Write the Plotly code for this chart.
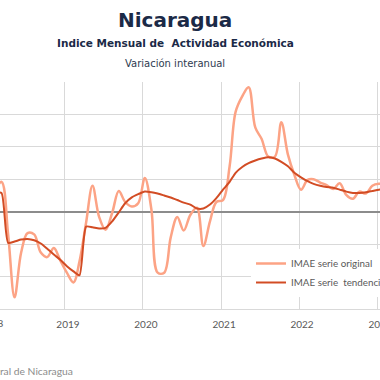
import plotly.graph_objects as go

# Monthly dates Jan-2018 .. Feb-2023
years = [2018] * 12 + [2019] * 12 + [2020] * 12 + [2021] * 12 + [2022] * 12 + [2023] * 2
months = list(range(1, 13)) * 5 + [1, 2]

imae_original = [
    4.5, 3.8, 4.6, -3.5, -13.2, -6.3, -3.3, -3.5, -6.3, -7.0, -5.6, -7.5,
    -9.4, -10.9, -7.7, -1.7, 4.0, -0.8, -2.8, -0.2, 3.2, 1.5, 0.8, 1.3,
    5.2, 0.3, -9.4, -9.4, -4.0, -0.8, -2.9, -0.5, 0.6, -5.3, -1.5, 1.5,
    1.8, 7.0, 15.4, 17.8, 19.2, 13.0, 11.2, 8.5, 8.5, 13.8, 8.8, 5.7,
    3.4, 4.9, 5.0, 4.5, 4.1, 3.5, 4.4, 2.6, 2.0, 3.1, 2.8, 4.0,
    4.3, 4.2,
]

imae_tendencia = [
    2.9, 2.9, 2.9, -4.8, -4.6, -4.3, -4.2, -4.4, -4.9, -5.7, -6.6, -7.4,
    -8.4, -9.2, -9.8, -2.3, -2.4, -2.6, -2.5, -1.5, -0.1, 1.3, 2.2, 2.7,
    3.1, 3.0, 2.8, 2.5, 2.2, 1.8, 1.4, 1.1, 0.5, 0.5, 1.1, 2.1,
    3.4, 4.6, 6.0, 6.9, 7.5, 7.9, 8.2, 8.4, 8.2, 7.7, 7.0, 6.0,
    5.3, 4.7, 4.3, 4.0, 3.8, 3.7, 3.4, 3.1, 2.9, 2.9, 3.0, 3.2,
    3.4, 3.5,
]

tick_years = ["2018", "2019", "2020", "2021", "2022", "2023"]

dates = [f"{y}-{m:02d}-10" for y, m in zip(years, months)]

fig = go.Figure()
fig.add_trace(go.Scatter(
    x=dates, y=imae_original, mode="lines", name="IMAE serie original",
    line=dict(color="#fca385", width=2.5, shape="spline", smoothing=1.0),
))
fig.add_trace(go.Scatter(
    x=dates, y=imae_tendencia, mode="lines", name="IMAE serie  tendencia",
    line=dict(color="#d24c24", width=2, shape="spline", smoothing=0.6),
))

fig.update_layout(
    width=380, height=380,
    margin=dict(l=0, r=0, t=82, b=71, autoexpand=False),
    paper_bgcolor="white", plot_bgcolor="white",
    font=dict(family="Lato, 'Open Sans', sans-serif", color="#595959"),
    showlegend=True,
    legend=dict(
        xref="container", yref="container",
        x=251 / 380, y=1 - 249 / 380, xanchor="left", yanchor="top",
        bgcolor="white", font=dict(size=9.8, color="#595959"),
        tracegroupgap=0, itemwidth=30,
    ),
)

fig.update_xaxes(
    type="date",
    range=["2018-03-03", "2023-01-15"],
    tickvals=[f"{y}-01-01" for y in tick_years],
    ticktext=tick_years,
    showgrid=True, gridcolor="#d9d9d9", gridwidth=1,
    showline=True, linecolor="#d9d9d9", linewidth=1,
    ticks="", ticklabeloverflow="allow",
    ticklabelstandoff=6, ticklabelshift=3,
    tickfont=dict(size=10, color="#595959"),
    zeroline=False,
)
fig.update_yaxes(
    range=[-15, 20], dtick=5, tick0=0,
    showgrid=True, gridcolor="#d9d9d9", gridwidth=1,
    zeroline=True, zerolinecolor="#8c8c8c", zerolinewidth=1.5,
    showticklabels=False, ticks="",
)

h = 227.0
def py(v):
    return (309 - v) / h

fig.add_annotation(text="<b>Nicaragua</b>", x=175 / 380, y=py(20), xref="paper", yref="paper",
                   showarrow=False, xanchor="center", yanchor="middle",
                   font=dict(size=20, color="#1b2a47", family="DejaVu Sans, sans-serif"))
fig.add_annotation(text="<b>Indice Mensual de  Actividad Económica</b>", x=175 / 380, y=py(43),
                   xref="paper", yref="paper", showarrow=False, xanchor="center", yanchor="middle",
                   font=dict(size=10.5, color="#1b2a47", family="DejaVu Sans, sans-serif"))
fig.add_annotation(text="Variación interanual", x=175 / 380, y=py(63), xref="paper", yref="paper",
                   showarrow=False, xanchor="center", yanchor="middle",
                   font=dict(size=10, color="#2e3a50", family="DejaVu Sans, sans-serif"))
fig.add_annotation(text="2018", x=-9 / 380, y=py(323), xref="paper", yref="paper",
                   showarrow=False, xanchor="center", yanchor="middle",
                   font=dict(size=10, color="#595959", family="Lato, sans-serif"))
fig.add_annotation(text="Fuente: Banco Central de Nicaragua", x=75 / 380, y=py(371), xref="paper", yref="paper",
                   showarrow=False, xanchor="right", yanchor="middle",
                   font=dict(size=10.3, color="#8c8c8c", family="Lato, sans-serif"))

fig.write_html("out.html", config={"displayModeBar": False},
               post_script="document.body.style.margin='0';document.body.style.padding='0';")
